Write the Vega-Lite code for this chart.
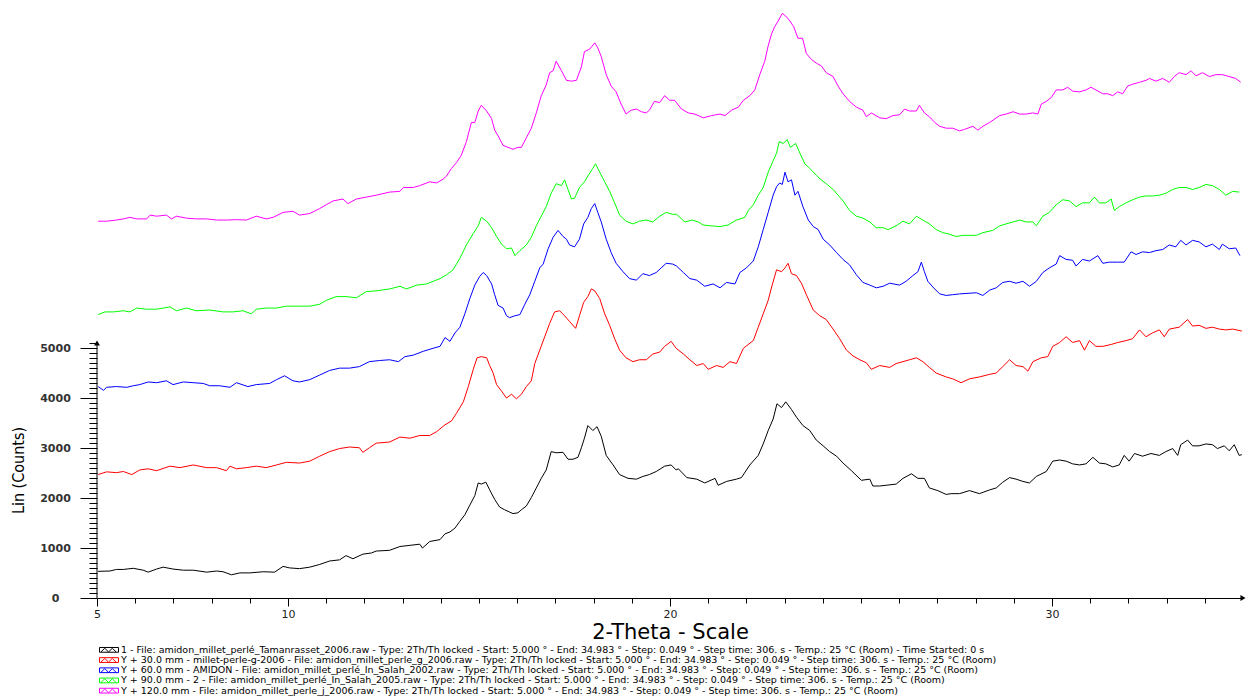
{
  "$schema": "https://vega.github.io/schema/vega-lite/v6.json",
  "width": 1146,
  "height": 593,
  "autosize": {"type": "none"},
  "padding": {"left": 97, "top": 5, "right": 4, "bottom": 101},
  "background": "white",
  "config": {"view": {"stroke": null}, "font": "DejaVu Sans"},
  "datasets": {
    "axisLine": [{"x": 5, "y": 0, "y2": 5100}],
    "arrowUp": [{"x": 5, "y": 5100}],
    "arrowRight": [{"x": 35, "y": 0}],
    "s1": [
      {"x":5.03,"y":533},{"x":5.34,"y":540},{"x":5.51,"y":571},{"x":5.69,"y":571},{"x":5.95,"y":594},{"x":6.21,"y":556},{"x":6.34,"y":517},{"x":6.56,"y":579},{"x":6.73,"y":617},{"x":6.99,"y":579},{"x":7.26,"y":556},{"x":7.52,"y":556},{"x":7.87,"y":517},{"x":8.13,"y":540},{"x":8.30,"y":525},{"x":8.52,"y":464},{"x":8.74,"y":502},{"x":9.00,"y":502},{"x":9.35,"y":525},{"x":9.65,"y":517},{"x":9.87,"y":632},{"x":10.04,"y":602},{"x":10.30,"y":587},{"x":10.57,"y":617},{"x":10.83,"y":671},{"x":11.09,"y":740},{"x":11.35,"y":763},{"x":11.52,"y":847},{"x":11.70,"y":785},{"x":11.96,"y":877},{"x":12.18,"y":900},{"x":12.31,"y":939},{"x":12.66,"y":954},
      {"x":12.93,"y":1030},{"x":13.19,"y":1053},{"x":13.45,"y":1076},{"x":13.52,"y":999},{"x":13.71,"y":1130},{"x":13.98,"y":1168},{"x":14.11,"y":1283},{"x":14.24,"y":1321},{"x":14.37,"y":1397},{"x":14.50,"y":1535},{"x":14.63,"y":1665},{"x":14.76,"y":1857},{"x":14.89,"y":2048},{"x":14.98,"y":2301},{"x":15.06,"y":2278},{"x":15.18,"y":2316},{"x":15.28,"y":2163},{"x":15.41,"y":1972},{"x":15.54,"y":1819},{"x":15.67,"y":1765},{"x":15.80,"y":1719},{"x":15.89,"y":1688},{"x":16.02,"y":1704},{"x":16.11,"y":1765},{"x":16.24,"y":1841},{"x":16.37,"y":2010},{"x":16.50,"y":2201},{"x":16.63,"y":2393},{"x":16.76,"y":2561},{"x":16.89,"y":2928},{"x":17.02,"y":2905},{"x":17.20,"y":2913},{"x":17.33,"y":2775},{"x":17.46,"y":2775},{"x":17.59,"y":2814},{"x":17.68,"y":3005},{"x":17.76,"y":3196},{"x":17.85,"y":3449},{"x":17.98,"y":3349},{"x":18.09,"y":3426},{"x":18.20,"y":3235},{"x":18.33,"y":2852},{"x":18.51,"y":2661},{"x":18.68,"y":2469},{"x":18.90,"y":2393},{"x":19.12,"y":2377},{"x":19.29,"y":2431},{"x":19.46,"y":2469},{"x":19.64,"y":2530},{"x":19.86,"y":2637},{"x":20.03,"y":2661},{"x":20.16,"y":2561},
      {"x":20.22,"y":2584},{"x":20.44,"y":2408},{"x":20.70,"y":2377},{"x":20.91,"y":2301},{"x":21.18,"y":2393},{"x":21.26,"y":2255},{"x":21.48,"y":2331},{"x":21.74,"y":2377},{"x":21.87,"y":2408},{"x":22.09,"y":2661},{"x":22.31,"y":2852},{"x":22.44,"y":3081},{"x":22.57,"y":3349},{"x":22.70,"y":3579},{"x":22.80,"y":3885},{"x":22.92,"y":3808},{"x":23.03,"y":3923},{"x":23.18,"y":3770},{"x":23.31,"y":3617},{"x":23.48,"y":3449},{"x":23.66,"y":3349},{"x":23.83,"y":3158},{"x":24.01,"y":3043},{"x":24.18,"y":2928},{"x":24.36,"y":2836},{"x":24.53,"y":2699},{"x":24.75,"y":2546},{"x":25.01,"y":2354},{"x":25.23,"y":2377},{"x":25.31,"y":2240},{"x":25.49,"y":2240},{"x":25.66,"y":2255},{"x":25.92,"y":2278},{"x":26.10,"y":2393},{"x":26.32,"y":2484},{"x":26.49,"y":2393},{"x":26.66,"y":2393},{"x":26.79,"y":2201},{"x":27.01,"y":2148},{"x":27.23,"y":2071},{"x":27.36,"y":2087},{"x":27.58,"y":2087},
      {"x":27.84,"y":2148},{"x":28.10,"y":2087},{"x":28.37,"y":2163},{"x":28.54,"y":2201},{"x":28.71,"y":2316},{"x":28.89,"y":2408},{"x":29.06,"y":2377},{"x":29.24,"y":2331},{"x":29.41,"y":2301},{"x":29.59,"y":2431},{"x":29.85,"y":2530},{"x":30.02,"y":2737},{"x":30.20,"y":2760},{"x":30.37,"y":2737},{"x":30.54,"y":2683},{"x":30.72,"y":2661},{"x":30.89,"y":2683},{"x":31.07,"y":2814},{"x":31.24,"y":2699},{"x":31.41,"y":2683},{"x":31.59,"y":2622},{"x":31.76,"y":2661},{"x":31.89,"y":2852},{"x":32.02,"y":2737},{"x":32.16,"y":2890},{"x":32.37,"y":2836},{"x":32.59,"y":2890},{"x":32.81,"y":2852},{"x":32.98,"y":2928},{"x":33.16,"y":2989},{"x":33.29,"y":2852},{"x":33.37,"y":3066},{"x":33.55,"y":3158},{"x":33.68,"y":3043},{"x":33.85,"y":3043},{"x":34.03,"y":3081},{"x":34.20,"y":3066},{"x":34.33,"y":2989},{"x":34.51,"y":3043},{"x":34.64,"y":2944},{"x":34.77,"y":3066},{"x":34.90,"y":2852},{"x":34.97,"y":2867}
    ],
    "s2": [
      {"x":5.03,"y":2469},{"x":5.25,"y":2523},{"x":5.51,"y":2507},{"x":5.69,"y":2530},{"x":5.91,"y":2469},{"x":6.12,"y":2561},{"x":6.34,"y":2584},{"x":6.56,"y":2546},{"x":6.91,"y":2637},{"x":7.17,"y":2607},{"x":7.52,"y":2661},{"x":7.87,"y":2607},{"x":8.13,"y":2607},{"x":8.39,"y":2546},{"x":8.48,"y":2637},{"x":8.65,"y":2584},{"x":8.91,"y":2607},{"x":9.17,"y":2637},{"x":9.43,"y":2607},{"x":9.70,"y":2661},{"x":9.96,"y":2714},{"x":10.30,"y":2699},{"x":10.57,"y":2737},{"x":10.83,"y":2836},{"x":11.09,"y":2928},{"x":11.35,"y":2989},{"x":11.61,"y":3020},{"x":11.87,"y":3005},{"x":11.96,"y":2913},{"x":12.13,"y":3005},{"x":12.31,"y":3097},{"x":12.66,"y":3120},
      {"x":12.93,"y":3219},{"x":13.19,"y":3196},{"x":13.45,"y":3250},{"x":13.71,"y":3250},{"x":13.89,"y":3327},{"x":14.11,"y":3464},{"x":14.28,"y":3541},{"x":14.41,"y":3694},{"x":14.59,"y":3923},{"x":14.72,"y":4229},{"x":14.85,"y":4574},{"x":14.95,"y":4804},{"x":15.06,"y":4827},{"x":15.20,"y":4804},{"x":15.28,"y":4651},{"x":15.37,"y":4498},{"x":15.46,"y":4268},{"x":15.59,"y":4138},{"x":15.72,"y":3999},{"x":15.85,"y":4076},{"x":15.98,"y":3984},{"x":16.11,"y":4076},{"x":16.24,"y":4229},{"x":16.37,"y":4344},{"x":16.46,"y":4689},{"x":16.59,"y":4957},{"x":16.72,"y":5225},{"x":16.85,"y":5492},{"x":16.98,"y":5722},{"x":17.11,"y":5745},{"x":17.24,"y":5645},{"x":17.37,"y":5531},{"x":17.53,"y":5393},{"x":17.63,"y":5645},{"x":17.74,"y":5913},{"x":17.85,"y":6028},{"x":17.94,"y":6181},{"x":18.03,"y":6143},{"x":18.16,"y":5990},{"x":18.29,"y":5684},{"x":18.42,"y":5454},{"x":18.55,"y":5186},{"x":18.68,"y":4957},{"x":18.85,"y":4804},{"x":19.03,"y":4727},{"x":19.20,"y":4765},{"x":19.38,"y":4765},{"x":19.55,"y":4880},{"x":19.73,"y":4918},{"x":19.86,"y":5033},{"x":20.03,"y":5133},{"x":20.16,"y":4995},
      {"x":20.35,"y":4880},{"x":20.52,"y":4765},{"x":20.70,"y":4650},{"x":20.87,"y":4689},{"x":21.00,"y":4574},{"x":21.22,"y":4650},{"x":21.39,"y":4612},{"x":21.57,"y":4727},{"x":21.74,"y":4689},{"x":21.92,"y":4995},{"x":22.18,"y":5148},{"x":22.31,"y":5416},{"x":22.44,"y":5684},{"x":22.57,"y":5952},{"x":22.66,"y":6220},{"x":22.79,"y":6564},{"x":22.92,"y":6526},{"x":23.01,"y":6602},{"x":23.09,"y":6694},{"x":23.18,"y":6487},{"x":23.31,"y":6449},{"x":23.44,"y":6296},{"x":23.57,"y":6066},{"x":23.75,"y":5760},{"x":23.92,"y":5645},{"x":24.09,"y":5569},{"x":24.27,"y":5378},{"x":24.44,"y":5186},{"x":24.62,"y":4957},{"x":24.79,"y":4842},{"x":24.97,"y":4765},{"x":25.14,"y":4704},{"x":25.27,"y":4574},{"x":25.49,"y":4650},{"x":25.75,"y":4612},{"x":25.92,"y":4689},{"x":26.10,"y":4727},{"x":26.27,"y":4765},{"x":26.45,"y":4804},{"x":26.62,"y":4727},{"x":26.79,"y":4612},{"x":26.97,"y":4498},{"x":27.23,"y":4421},{"x":27.40,"y":4383},{"x":27.62,"y":4306},
      {"x":27.84,"y":4383},{"x":28.10,"y":4421},{"x":28.37,"y":4474},{"x":28.54,"y":4498},{"x":28.71,"y":4628},{"x":28.89,"y":4765},{"x":29.06,"y":4650},{"x":29.24,"y":4628},{"x":29.37,"y":4536},{"x":29.50,"y":4727},{"x":29.72,"y":4804},{"x":29.89,"y":4827},{"x":30.02,"y":5033},{"x":30.20,"y":5110},{"x":30.37,"y":5225},{"x":30.54,"y":5110},{"x":30.72,"y":5148},{"x":30.85,"y":4957},{"x":30.98,"y":5148},{"x":31.15,"y":5033},{"x":31.33,"y":5033},{"x":31.55,"y":5071},{"x":31.72,"y":5110},{"x":31.94,"y":5148},{"x":32.11,"y":5186},{"x":32.29,"y":5362},{"x":32.46,"y":5225},{"x":32.63,"y":5301},{"x":32.81,"y":5362},{"x":32.94,"y":5225},{"x":33.07,"y":5378},{"x":33.33,"y":5416},{"x":33.55,"y":5569},{"x":33.68,"y":5439},{"x":33.85,"y":5454},{"x":34.03,"y":5393},{"x":34.20,"y":5416},{"x":34.38,"y":5378},{"x":34.55,"y":5362},{"x":34.73,"y":5378},{"x":34.97,"y":5339}
    ],
    "s3": [
      {"x":5.03,"y":4229},{"x":5.17,"y":4153},{"x":5.25,"y":4214},{"x":5.51,"y":4229},{"x":5.78,"y":4214},{"x":5.95,"y":4245},{"x":6.12,"y":4268},{"x":6.34,"y":4321},{"x":6.56,"y":4306},{"x":6.82,"y":4344},{"x":6.99,"y":4268},{"x":7.26,"y":4321},{"x":7.52,"y":4306},{"x":7.78,"y":4291},{"x":7.95,"y":4245},{"x":8.21,"y":4245},{"x":8.48,"y":4214},{"x":8.65,"y":4306},{"x":8.95,"y":4229},{"x":9.17,"y":4268},{"x":9.52,"y":4291},{"x":9.70,"y":4367},{"x":9.91,"y":4444},{"x":10.13,"y":4344},{"x":10.30,"y":4321},{"x":10.57,"y":4367},{"x":10.83,"y":4459},{"x":11.09,"y":4551},{"x":11.35,"y":4597},{"x":11.61,"y":4597},{"x":11.87,"y":4628},{"x":12.13,"y":4727},{"x":12.40,"y":4750},{"x":12.66,"y":4765},
      {"x":12.89,"y":4727},{"x":13.06,"y":4827},{"x":13.28,"y":4857},{"x":13.54,"y":4934},{"x":13.80,"y":4995},{"x":13.98,"y":5033},{"x":14.11,"y":5209},{"x":14.24,"y":5133},{"x":14.37,"y":5301},{"x":14.50,"y":5416},{"x":14.63,"y":5684},{"x":14.76,"y":5990},{"x":14.89,"y":6258},{"x":15.02,"y":6434},{"x":15.11,"y":6510},{"x":15.20,"y":6449},{"x":15.33,"y":6281},{"x":15.41,"y":6066},{"x":15.50,"y":5852},{"x":15.63,"y":5799},{"x":15.72,"y":5645},{"x":15.80,"y":5607},{"x":15.94,"y":5645},{"x":16.07,"y":5668},{"x":16.20,"y":5875},{"x":16.33,"y":6066},{"x":16.46,"y":6334},{"x":16.59,"y":6602},{"x":16.68,"y":6679},{"x":16.81,"y":6985},{"x":16.94,"y":7215},{"x":17.07,"y":7352},{"x":17.20,"y":7230},{"x":17.29,"y":7176},{"x":17.37,"y":7061},{"x":17.50,"y":7023},{"x":17.63,"y":7176},{"x":17.74,"y":7482},{"x":17.85,"y":7613},{"x":17.94,"y":7789},{"x":18.03,"y":7888},{"x":18.11,"y":7712},{"x":18.20,"y":7521},{"x":18.33,"y":7176},{"x":18.46,"y":6908},{"x":18.59,"y":6694},{"x":18.77,"y":6526},{"x":18.94,"y":6388},{"x":19.12,"y":6357},{"x":19.29,"y":6487},{"x":19.46,"y":6449},{"x":19.64,"y":6510},{"x":19.77,"y":6602},{"x":19.90,"y":6694},{"x":20.07,"y":6679},
      {"x":20.17,"y":6640},{"x":20.35,"y":6510},{"x":20.52,"y":6388},{"x":20.70,"y":6357},{"x":20.91,"y":6235},{"x":21.13,"y":6281},{"x":21.31,"y":6204},{"x":21.48,"y":6311},{"x":21.70,"y":6281},{"x":21.83,"y":6510},{"x":22.00,"y":6602},{"x":22.18,"y":6740},{"x":22.31,"y":7023},{"x":22.44,"y":7368},{"x":22.57,"y":7712},{"x":22.70,"y":8056},{"x":22.79,"y":8225},{"x":22.87,"y":8301},{"x":22.94,"y":8271},{"x":23.01,"y":8516},{"x":23.09,"y":8324},{"x":23.18,"y":8363},{"x":23.27,"y":8056},{"x":23.35,"y":8133},{"x":23.48,"y":7827},{"x":23.62,"y":7559},{"x":23.75,"y":7429},{"x":23.88,"y":7368},{"x":24.01,"y":7176},{"x":24.18,"y":7061},{"x":24.36,"y":6908},{"x":24.53,"y":6771},{"x":24.70,"y":6663},{"x":24.88,"y":6464},{"x":25.05,"y":6311},{"x":25.23,"y":6258},{"x":25.40,"y":6204},{"x":25.58,"y":6235},{"x":25.75,"y":6296},{"x":26.01,"y":6258},{"x":26.18,"y":6334},{"x":26.36,"y":6449},{"x":26.49,"y":6526},{"x":26.58,"y":6717},{"x":26.66,"y":6526},{"x":26.75,"y":6334},{"x":26.88,"y":6220},{"x":27.06,"y":6082},{"x":27.23,"y":6051},{"x":27.40,"y":6066},{"x":27.58,"y":6082},
      {"x":28.02,"y":6105},{"x":28.19,"y":6051},{"x":28.37,"y":6158},{"x":28.54,"y":6204},{"x":28.71,"y":6311},{"x":28.89,"y":6334},{"x":29.06,"y":6296},{"x":29.24,"y":6334},{"x":29.41,"y":6235},{"x":29.59,"y":6334},{"x":29.76,"y":6510},{"x":29.93,"y":6602},{"x":30.11,"y":6679},{"x":30.20,"y":6847},{"x":30.37,"y":6771},{"x":30.54,"y":6755},{"x":30.63,"y":6640},{"x":30.80,"y":6771},{"x":30.98,"y":6740},{"x":31.20,"y":6847},{"x":31.33,"y":6694},{"x":31.50,"y":6717},{"x":31.72,"y":6717},{"x":31.89,"y":6717},{"x":32.07,"y":6924},{"x":32.20,"y":6870},{"x":32.37,"y":6924},{"x":32.55,"y":6908},{"x":32.72,"y":6947},{"x":32.90,"y":6970},{"x":33.07,"y":7061},{"x":33.24,"y":7023},{"x":33.37,"y":7153},{"x":33.51,"y":7061},{"x":33.68,"y":7153},{"x":33.85,"y":7123},{"x":34.03,"y":7023},{"x":34.20,"y":7077},{"x":34.38,"y":6970},{"x":34.46,"y":7077},{"x":34.64,"y":6985},{"x":34.81,"y":7000},{"x":34.92,"y":6847}
    ],
    "s4": [
      {"x":5.03,"y":5668},{"x":5.21,"y":5722},{"x":5.43,"y":5722},{"x":5.69,"y":5745},{"x":5.86,"y":5722},{"x":6.04,"y":5799},{"x":6.30,"y":5776},{"x":6.56,"y":5776},{"x":6.91,"y":5822},{"x":7.08,"y":5745},{"x":7.34,"y":5799},{"x":7.60,"y":5745},{"x":7.95,"y":5760},{"x":8.30,"y":5722},{"x":8.56,"y":5722},{"x":8.82,"y":5745},{"x":9.04,"y":5684},{"x":9.17,"y":5776},{"x":9.43,"y":5799},{"x":9.70,"y":5799},{"x":9.96,"y":5837},{"x":10.30,"y":5837},{"x":10.57,"y":5837},{"x":10.83,"y":5875},{"x":11.00,"y":5952},{"x":11.26,"y":6028},{"x":11.52,"y":6028},{"x":11.79,"y":6005},{"x":12.05,"y":6128},{"x":12.31,"y":6143},{"x":12.66,"y":6181},
      {"x":12.93,"y":6235},{"x":13.10,"y":6181},{"x":13.37,"y":6258},{"x":13.63,"y":6281},{"x":13.80,"y":6334},{"x":13.98,"y":6388},{"x":14.15,"y":6464},{"x":14.32,"y":6564},{"x":14.50,"y":6794},{"x":14.67,"y":7061},{"x":14.85,"y":7291},{"x":14.98,"y":7444},{"x":15.06,"y":7613},{"x":15.20,"y":7536},{"x":15.33,"y":7406},{"x":15.46,"y":7230},{"x":15.59,"y":7077},{"x":15.72,"y":6985},{"x":15.85,"y":7000},{"x":15.94,"y":6847},{"x":16.07,"y":6947},{"x":16.24,"y":7061},{"x":16.37,"y":7215},{"x":16.50,"y":7444},{"x":16.63,"y":7636},{"x":16.76,"y":7827},{"x":16.89,"y":8095},{"x":17.02,"y":8286},{"x":17.16,"y":8248},{"x":17.24,"y":8363},{"x":17.33,"y":8171},{"x":17.42,"y":7980},{"x":17.50,"y":7995},{"x":17.63,"y":8210},{"x":17.76,"y":8324},{"x":17.85,"y":8439},{"x":17.98,"y":8592},{"x":18.05,"y":8684},{"x":18.16,"y":8516},{"x":18.29,"y":8324},{"x":18.42,"y":8133},{"x":18.55,"y":7903},{"x":18.68,"y":7659},{"x":18.85,"y":7536},{"x":19.03,"y":7482},{"x":19.20,"y":7536},{"x":19.38,"y":7559},{"x":19.55,"y":7521},{"x":19.73,"y":7636},{"x":19.90,"y":7712},{"x":20.07,"y":7674},
      {"x":20.17,"y":7674},{"x":20.39,"y":7521},{"x":20.57,"y":7559},{"x":20.74,"y":7521},{"x":20.87,"y":7460},{"x":21.05,"y":7444},{"x":21.31,"y":7429},{"x":21.52,"y":7460},{"x":21.74,"y":7559},{"x":21.96,"y":7613},{"x":22.05,"y":7750},{"x":22.18,"y":7865},{"x":22.31,"y":8056},{"x":22.44,"y":8210},{"x":22.57,"y":8516},{"x":22.70,"y":8745},{"x":22.79,"y":8898},{"x":22.86,"y":9128},{"x":22.96,"y":9090},{"x":23.07,"y":9166},{"x":23.15,"y":9013},{"x":23.29,"y":9090},{"x":23.40,"y":8898},{"x":23.53,"y":8684},{"x":23.66,"y":8592},{"x":23.83,"y":8454},{"x":23.96,"y":8363},{"x":24.09,"y":8286},{"x":24.27,"y":8171},{"x":24.40,"y":8056},{"x":24.53,"y":7942},{"x":24.70,"y":7750},{"x":24.88,"y":7636},{"x":25.05,"y":7597},{"x":25.23,"y":7521},{"x":25.40,"y":7406},{"x":25.58,"y":7406},{"x":25.71,"y":7368},{"x":25.92,"y":7444},{"x":26.10,"y":7536},{"x":26.27,"y":7482},{"x":26.45,"y":7636},{"x":26.62,"y":7559},{"x":26.79,"y":7482},{"x":26.97,"y":7368},{"x":27.14,"y":7307},{"x":27.32,"y":7276},{"x":27.49,"y":7230},{"x":27.67,"y":7253},
      {"x":28.02,"y":7253},{"x":28.19,"y":7307},{"x":28.45,"y":7352},{"x":28.63,"y":7444},{"x":28.80,"y":7482},{"x":28.98,"y":7521},{"x":29.15,"y":7559},{"x":29.32,"y":7521},{"x":29.50,"y":7521},{"x":29.59,"y":7444},{"x":29.76,"y":7636},{"x":29.93,"y":7712},{"x":30.11,"y":7865},{"x":30.28,"y":7965},{"x":30.46,"y":7942},{"x":30.63,"y":7827},{"x":30.80,"y":7903},{"x":30.98,"y":7903},{"x":31.11,"y":8018},{"x":31.24,"y":7903},{"x":31.41,"y":7903},{"x":31.55,"y":7980},{"x":31.63,"y":7750},{"x":31.76,"y":7827},{"x":31.94,"y":7903},{"x":32.11,"y":7965},{"x":32.29,"y":8018},{"x":32.46,"y":8041},{"x":32.63,"y":8041},{"x":32.81,"y":8056},{"x":32.98,"y":8095},{"x":33.16,"y":8171},{"x":33.33,"y":8210},{"x":33.51,"y":8210},{"x":33.68,"y":8171},{"x":33.85,"y":8210},{"x":34.03,"y":8271},{"x":34.20,"y":8248},{"x":34.38,"y":8171},{"x":34.55,"y":8056},{"x":34.73,"y":8133},{"x":34.90,"y":8118}
    ],
    "s5": [
      {"x":5.03,"y":7536},{"x":5.25,"y":7536},{"x":5.51,"y":7559},{"x":5.69,"y":7582},{"x":5.86,"y":7613},{"x":6.04,"y":7582},{"x":6.30,"y":7582},{"x":6.39,"y":7658},{"x":6.56,"y":7636},{"x":6.82,"y":7658},{"x":6.95,"y":7582},{"x":7.08,"y":7636},{"x":7.34,"y":7597},{"x":7.60,"y":7582},{"x":7.87,"y":7582},{"x":8.13,"y":7559},{"x":8.39,"y":7559},{"x":8.65,"y":7567},{"x":8.91,"y":7559},{"x":9.17,"y":7636},{"x":9.43,"y":7582},{"x":9.61,"y":7613},{"x":9.87,"y":7712},{"x":10.13,"y":7735},{"x":10.30,"y":7658},{"x":10.57,"y":7689},{"x":10.83,"y":7789},{"x":11.00,"y":7865},{"x":11.18,"y":7942},{"x":11.44,"y":7980},{"x":11.57,"y":7888},{"x":11.79,"y":7980},{"x":12.05,"y":8018},{"x":12.31,"y":8056},{"x":12.66,"y":8118},
      {"x":12.93,"y":8133},{"x":13.02,"y":8210},{"x":13.28,"y":8210},{"x":13.45,"y":8248},{"x":13.71,"y":8324},{"x":13.89,"y":8301},{"x":14.06,"y":8378},{"x":14.15,"y":8439},{"x":14.28,"y":8592},{"x":14.41,"y":8707},{"x":14.54,"y":8860},{"x":14.67,"y":9128},{"x":14.80,"y":9511},{"x":14.89,"y":9511},{"x":14.98,"y":9740},{"x":15.06,"y":9855},{"x":15.20,"y":9740},{"x":15.33,"y":9587},{"x":15.41,"y":9358},{"x":15.50,"y":9243},{"x":15.63,"y":9052},{"x":15.76,"y":9013},{"x":15.89,"y":8975},{"x":16.02,"y":9013},{"x":16.11,"y":9013},{"x":16.24,"y":9205},{"x":16.37,"y":9396},{"x":16.50,"y":9702},{"x":16.63,"y":10047},{"x":16.76,"y":10261},{"x":16.85,"y":10506},{"x":16.94,"y":10544},{"x":17.02,"y":10735},{"x":17.16,"y":10544},{"x":17.29,"y":10353},{"x":17.42,"y":10337},{"x":17.55,"y":10353},{"x":17.68,"y":10621},{"x":17.76,"y":10927},{"x":17.90,"y":10980},{"x":18.03,"y":11103},{"x":18.11,"y":11003},{"x":18.20,"y":10827},{"x":18.33,"y":10467},{"x":18.46,"y":10238},{"x":18.59,"y":10123},{"x":18.72,"y":9878},{"x":18.85,"y":9679},{"x":18.98,"y":9756},{"x":19.12,"y":9779},{"x":19.25,"y":9725},{"x":19.38,"y":9702},{"x":19.46,"y":9756},{"x":19.59,"y":9932},{"x":19.73,"y":9909},{"x":19.86,"y":10047},{"x":19.99,"y":9955},{"x":20.12,"y":9955},
      {"x":20.30,"y":9779},{"x":20.48,"y":9702},{"x":20.65,"y":9679},{"x":20.87,"y":9603},{"x":21.09,"y":9649},{"x":21.31,"y":9679},{"x":21.44,"y":9649},{"x":21.61,"y":9756},{"x":21.79,"y":9817},{"x":21.92,"y":9955},{"x":22.09,"y":10047},{"x":22.22,"y":10161},{"x":22.35,"y":10467},{"x":22.48,"y":10735},{"x":22.57,"y":11042},{"x":22.66,"y":11286},{"x":22.74,"y":11424},{"x":22.83,"y":11539},{"x":22.94,"y":11692},{"x":23.03,"y":11639},{"x":23.14,"y":11539},{"x":23.24,"y":11424},{"x":23.35,"y":11195},{"x":23.47,"y":11195},{"x":23.57,"y":10888},{"x":23.70,"y":10774},{"x":23.83,"y":10697},{"x":23.96,"y":10644},{"x":24.09,"y":10506},{"x":24.27,"y":10429},{"x":24.40,"y":10238},{"x":24.53,"y":10085},{"x":24.70,"y":9932},{"x":24.88,"y":9817},{"x":25.05,"y":9756},{"x":25.14,"y":9626},{"x":25.27,"y":9702},{"x":25.49,"y":9603},{"x":25.66,"y":9587},{"x":25.84,"y":9649},{"x":26.01,"y":9664},{"x":26.14,"y":9779},{"x":26.27,"y":9740},{"x":26.45,"y":9740},{"x":26.53,"y":9855},{"x":26.66,"y":9702},{"x":26.79,"y":9626},{"x":26.93,"y":9511},{"x":27.06,"y":9434},{"x":27.23,"y":9396},{"x":27.40,"y":9396},{"x":27.58,"y":9342},{"x":27.71,"y":9373},
      {"x":27.93,"y":9434},{"x":28.06,"y":9358},{"x":28.19,"y":9434},{"x":28.37,"y":9511},{"x":28.63,"y":9649},{"x":28.80,"y":9679},{"x":28.98,"y":9725},{"x":29.15,"y":9679},{"x":29.32,"y":9679},{"x":29.50,"y":9702},{"x":29.63,"y":9679},{"x":29.72,"y":9878},{"x":29.85,"y":9932},{"x":29.98,"y":10008},{"x":30.11,"y":10161},{"x":30.28,"y":10161},{"x":30.41,"y":10215},{"x":30.54,"y":10138},{"x":30.72,"y":10123},{"x":30.89,"y":10161},{"x":31.02,"y":10215},{"x":31.15,"y":10161},{"x":31.33,"y":10085},{"x":31.46,"y":10085},{"x":31.59,"y":10047},{"x":31.72,"y":10123},{"x":31.85,"y":10085},{"x":31.98,"y":10238},{"x":32.11,"y":10276},{"x":32.29,"y":10314},{"x":32.46,"y":10353},{"x":32.55,"y":10391},{"x":32.72,"y":10337},{"x":32.90,"y":10391},{"x":33.07,"y":10314},{"x":33.20,"y":10429},{"x":33.33,"y":10506},{"x":33.51,"y":10467},{"x":33.64,"y":10544},{"x":33.77,"y":10444},{"x":33.94,"y":10506},{"x":34.12,"y":10429},{"x":34.29,"y":10467},{"x":34.46,"y":10467},{"x":34.64,"y":10429},{"x":34.81,"y":10391},{"x":34.94,"y":10314}
    ]
  },
  "encoding": {
    "x": {
      "field": "x",
      "type": "quantitative",
      "scale": {"domain": [5, 35], "nice": false, "zero": false},
      "axis": {
        "title": "2-Theta - Scale",
        "values": [5,6,7,8,9,10,11,12,13,14,15,16,17,18,19,20,21,22,23,24,25,26,27,28,29,30,31,32,33,34],
        "labelExpr": "indexof([5,10,20,30], datum.value) >= 0 ? datum.label : ''",
        "tickSize": {"condition": {"test": "indexof([5,10,20,30], datum.value) >= 0", "value": 8}, "value": 5},
        "grid": false,
        "domainColor": "#000000",
        "tickColor": "#000000",
        "labelFont": "DejaVu Sans",
        "labelFontSize": 11,
        "labelColor": "#222222",
        "labelPadding": 2,
        "labelOverlap": false,
        "labelFlush": false,
        "titleFont": "DejaVu Sans",
        "titleFontSize": 21,
        "titleFontWeight": "normal",
        "titleColor": "#000000",
        "titleBaseline": "alphabetic",
        "titleY": 40
      }
    },
    "y": {
      "field": "y",
      "type": "quantitative",
      "scale": {"domain": [0, 11860], "nice": false},
      "axis": {
        "title": "Lin (Counts)",
        "values": [0,100,200,300,400,500,600,700,800,900,1000,1100,1200,1300,1400,1500,1600,1700,1800,1900,2000,2100,2200,2300,2400,2500,2600,2700,2800,2900,3000,3100,3200,3300,3400,3500,3600,3700,3800,3900,4000,4100,4200,4300,4400,4500,4600,4700,4800,4900,5000,5100],
        "format": "d",
        "labelExpr": "datum.value % 1000 === 0 && datum.value <= 5000 ? datum.label : ''",
        "tickSize": {"condition": {"test": "datum.value % 1000 === 0", "value": 17}, "value": 8},
        "domain": false,
        "grid": false,
        "tickColor": "#000000",
        "labelFont": "DejaVu Sans",
        "labelFontSize": 11,
        "labelFontWeight": "bold",
        "labelColor": "#333333",
        "labelAlign": "center",
        "labelBaseline": "middle",
        "labelPadding": 25,
        "labelOverlap": false,
        "labelFlush": false,
        "titleFont": "DejaVu Sans Condensed, Liberation Sans, DejaVu Sans",
        "titleFontSize": 16,
        "titleFontWeight": "normal",
        "titleColor": "#000000",
        "titleAngle": -90,
        "titleAlign": "center",
        "titleBaseline": "middle",
        "titleX": -79,
        "titleY": 465
      }
    }
  },
  "layer": [
    {
      "data": {"name": "axisLine"},
      "mark": {"type": "rule", "color": "#000000", "strokeWidth": 1},
      "encoding": {"y2": {"field": "y2"}}
    },
    {
      "data": {"name": "arrowUp"},
      "mark": {"type": "point", "shape": "triangle-up", "filled": true, "color": "#000000", "opacity": 1, "size": 35}
    },
    {
      "data": {"name": "arrowRight"},
      "mark": {"type": "point", "shape": "triangle-right", "filled": true, "color": "#000000", "opacity": 1, "size": 35}
    },
    {
      "data": {"name": "s1"},
      "mark": {"type": "line", "strokeWidth": 1},
      "encoding": {
        "color": {
          "datum": "1 - File: amidon_millet_perlé_Tamanrasset_2006.raw - Type: 2Th/Th locked - Start: 5.000 ° - End: 34.983 ° - Step: 0.049 ° - Step time: 306. s - Temp.: 25 °C (Room) - Time Started: 0 s",
          "scale": {
            "domain": [
              "1 - File: amidon_millet_perlé_Tamanrasset_2006.raw - Type: 2Th/Th locked - Start: 5.000 ° - End: 34.983 ° - Step: 0.049 ° - Step time: 306. s - Temp.: 25 °C (Room) - Time Started: 0 s",
              "Y + 30.0 mm - millet-perle-g-2006 - File: amidon_millet_perle_g_2006.raw - Type: 2Th/Th locked - Start: 5.000 ° - End: 34.983 ° - Step: 0.049 ° - Step time: 306. s - Temp.: 25 °C (Room)",
              "Y + 60.0 mm - AMIDON - File: amidon_millet_perlé_In_Salah_2002.raw - Type: 2Th/Th locked - Start: 5.000 ° - End: 34.983 ° - Step: 0.049 ° - Step time: 306. s - Temp.: 25 °C (Room)",
              "Y + 90.0 mm - 2 - File: amidon_millet_perlé_In_Salah_2005.raw - Type: 2Th/Th locked - Start: 5.000 ° - End: 34.983 ° - Step: 0.049 ° - Step time: 306. s - Temp.: 25 °C (Room)",
              "Y + 120.0 mm - File: amidon_millet_perle_j_2006.raw - Type: 2Th/Th locked - Start: 5.000 ° - End: 34.983 ° - Step: 0.049 ° - Step time: 306. s - Temp.: 25 °C (Room)"
            ],
            "range": ["#000000", "#ff0000", "#0000ff", "#00ff00", "#ff00ff"]
          },
          "legend": {
            "orient": "none",
            "legendX": 2,
            "legendY": 640,
            "direction": "vertical",
            "title": null,
            "padding": 0,
            "symbolType": "M-1,-0.25H1V0.25H-1Z M-0.85,0.22L-0.45,-0.17L-0.05,0.22L0.35,-0.17L0.75,0.22",
            "symbolSize": 361,
            "symbolStrokeWidth": 1,
            "symbolFillColor": "transparent",
            "clipHeight": 9.7,
            "rowPadding": -0.8,
            "labelOffset": 2,
            "labelFont": "DejaVu Sans",
            "labelFontSize": 9.5,
            "labelColor": "#000000",
            "labelLimit": 0
          }
        }
      }
    },
    {
      "data": {"name": "s2"},
      "mark": {"type": "line", "strokeWidth": 1},
      "encoding": {"color": {"datum": "Y + 30.0 mm - millet-perle-g-2006 - File: amidon_millet_perle_g_2006.raw - Type: 2Th/Th locked - Start: 5.000 ° - End: 34.983 ° - Step: 0.049 ° - Step time: 306. s - Temp.: 25 °C (Room)"}}
    },
    {
      "data": {"name": "s3"},
      "mark": {"type": "line", "strokeWidth": 1},
      "encoding": {"color": {"datum": "Y + 60.0 mm - AMIDON - File: amidon_millet_perlé_In_Salah_2002.raw - Type: 2Th/Th locked - Start: 5.000 ° - End: 34.983 ° - Step: 0.049 ° - Step time: 306. s - Temp.: 25 °C (Room)"}}
    },
    {
      "data": {"name": "s4"},
      "mark": {"type": "line", "strokeWidth": 1},
      "encoding": {"color": {"datum": "Y + 90.0 mm - 2 - File: amidon_millet_perlé_In_Salah_2005.raw - Type: 2Th/Th locked - Start: 5.000 ° - End: 34.983 ° - Step: 0.049 ° - Step time: 306. s - Temp.: 25 °C (Room)"}}
    },
    {
      "data": {"name": "s5"},
      "mark": {"type": "line", "strokeWidth": 1},
      "encoding": {"color": {"datum": "Y + 120.0 mm - File: amidon_millet_perle_j_2006.raw - Type: 2Th/Th locked - Start: 5.000 ° - End: 34.983 ° - Step: 0.049 ° - Step time: 306. s - Temp.: 25 °C (Room)"}}
    }
  ]
}
